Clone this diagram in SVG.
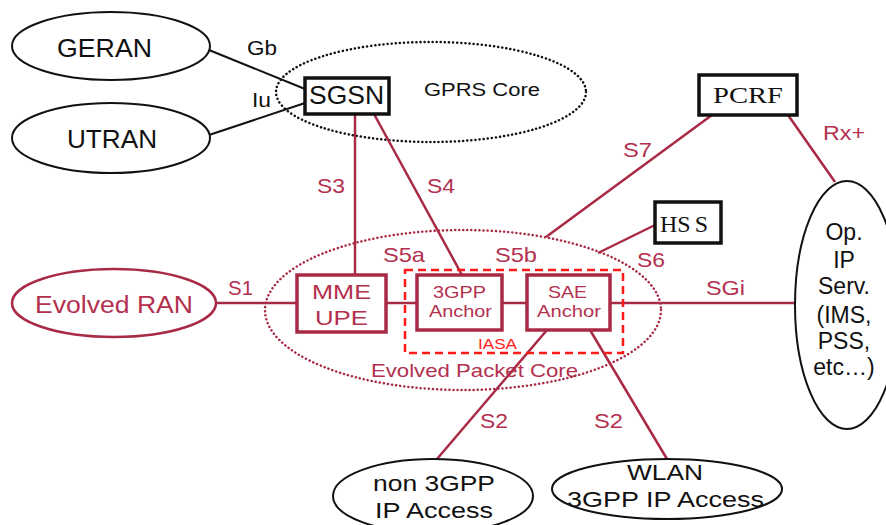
<svg xmlns="http://www.w3.org/2000/svg" width="886" height="525" viewBox="0 0 886 525">
<style>
  text { font-family: "Liberation Sans", Arial, sans-serif; }
  .blk { fill: #111; }
  .mar { fill: #b3304f; }
  .serif { font-family: "Liberation Serif", "Times New Roman", serif; }
  .bline { stroke: #111; stroke-width: 2; fill: none; }
  .mline { stroke: #a82a45; stroke-width: 2.5; fill: none; }
  .bell { stroke: #111; stroke-width: 2; fill: #fff; }
  .mbox { stroke: #a82a45; stroke-width: 3.5; fill: #fff; }
  .bbox { stroke: #111; stroke-width: 3.5; fill: #fff; }
</style>
<rect width="886" height="525" fill="#fff"/>

<!-- cloud regions -->
<g id="gprs-core">
  <ellipse cx="431" cy="92" rx="155" ry="50" fill="none" stroke="#111" stroke-width="2.5" stroke-dasharray="0.1 4" stroke-linecap="round"/>
  <text class="blk" x="424" y="96" font-size="18" textLength="116" lengthAdjust="spacingAndGlyphs">GPRS Core</text>
</g>
<g id="epc">
  <ellipse cx="463" cy="310" rx="198" ry="80" fill="none" stroke="#a82a45" stroke-width="2.5" stroke-dasharray="0.1 4" stroke-linecap="round"/>
  <text class="mar" x="371" y="377" font-size="19" textLength="207" lengthAdjust="spacingAndGlyphs">Evolved Packet Core</text>
</g>

<!-- connectors -->
<g id="connectors">
  <line class="bline" x1="209" y1="50" x2="305" y2="89"/>
  <line class="bline" x1="209" y1="135" x2="305" y2="103"/>
  <line class="mline" x1="355" y1="114" x2="355" y2="275"/>
  <line class="mline" x1="374" y1="114" x2="462" y2="275"/>
  <line class="mline" x1="216" y1="303" x2="297" y2="303"/>
  <line class="mline" x1="386" y1="303" x2="417" y2="303"/>
  <line class="mline" x1="502" y1="303" x2="527" y2="303"/>
  <line class="mline" x1="610" y1="303" x2="796" y2="303"/>
  <line class="mline" x1="712" y1="115" x2="546" y2="237"/>
  <line class="mline" x1="788" y1="115" x2="835" y2="182"/>
  <line class="mline" x1="655" y1="225" x2="598" y2="253"/>
  <line class="mline" x1="547" y1="330" x2="437" y2="459"/>
  <line class="mline" x1="590" y1="330" x2="667" y2="459"/>
</g>

<!-- connector labels -->
<g id="labels">
  <text class="blk" x="247" y="55" font-size="20" textLength="30" lengthAdjust="spacingAndGlyphs">Gb</text>
  <text class="blk" x="252" y="107" font-size="20" textLength="19" lengthAdjust="spacingAndGlyphs">Iu</text>
  <text class="mar" x="317" y="193" font-size="21" textLength="28" lengthAdjust="spacingAndGlyphs">S3</text>
  <text class="mar" x="427" y="193" font-size="21" textLength="28" lengthAdjust="spacingAndGlyphs">S4</text>
  <text class="mar" x="228" y="295" font-size="21" textLength="25" lengthAdjust="spacingAndGlyphs">S1</text>
  <text class="mar" x="383" y="262" font-size="21" textLength="42" lengthAdjust="spacingAndGlyphs">S5a</text>
  <text class="mar" x="495" y="262" font-size="21" textLength="42" lengthAdjust="spacingAndGlyphs">S5b</text>
  <text class="mar" x="637" y="267" font-size="21" textLength="28" lengthAdjust="spacingAndGlyphs">S6</text>
  <text class="mar" x="623" y="157" font-size="21" textLength="29" lengthAdjust="spacingAndGlyphs">S7</text>
  <text class="mar" x="823" y="140" font-size="21" textLength="42" lengthAdjust="spacingAndGlyphs">Rx+</text>
  <text class="mar" x="706" y="295" font-size="21" textLength="39" lengthAdjust="spacingAndGlyphs">SGi</text>
  <text class="mar" x="480" y="428" font-size="21" textLength="28" lengthAdjust="spacingAndGlyphs">S2</text>
  <text class="mar" x="594" y="428" font-size="21" textLength="29" lengthAdjust="spacingAndGlyphs">S2</text>
</g>

<!-- nodes -->
<g id="geran">
  <ellipse class="bell" cx="111" cy="46" rx="99" ry="34"/>
  <text class="blk" x="57" y="57" font-size="25" textLength="95" lengthAdjust="spacingAndGlyphs">GERAN</text>
</g>
<g id="utran">
  <ellipse class="bell" cx="111" cy="138" rx="99" ry="35"/>
  <text class="blk" x="67" y="148" font-size="25" textLength="90" lengthAdjust="spacingAndGlyphs">UTRAN</text>
</g>
<g id="sgsn">
  <rect class="bbox" x="305" y="78" width="84" height="36"/>
  <text class="blk" x="309" y="104" font-size="25" textLength="75" lengthAdjust="spacingAndGlyphs">SGSN</text>
</g>
<g id="pcrf">
  <rect class="bbox" x="699" y="75" width="98" height="40"/>
  <text class="blk serif" x="713" y="103" font-size="23" textLength="70" lengthAdjust="spacingAndGlyphs">PCRF</text>
</g>
<g id="hss">
  <rect class="bbox" x="655" y="202" width="66" height="41"/>
  <text class="blk serif" x="660" y="232" font-size="24">HS<tspan dx="4">S</tspan></text>
</g>
<g id="evolved-ran">
  <ellipse cx="114" cy="303" rx="102" ry="34" fill="#fff" stroke="#a82a45" stroke-width="2.5"/>
  <text class="mar" x="35" y="313" font-size="23" textLength="158" lengthAdjust="spacingAndGlyphs">Evolved RAN</text>
</g>
<g id="mme-upe">
  <rect class="mbox" x="297" y="275" width="89" height="57"/>
  <text class="mar" x="312" y="299" font-size="21" textLength="59" lengthAdjust="spacingAndGlyphs">MME</text>
  <text class="mar" x="315" y="325" font-size="21" textLength="53" lengthAdjust="spacingAndGlyphs">UPE</text>
</g>
<g id="iasa">
  <rect x="405" y="270" width="218" height="83" fill="none" stroke="#ff1a1a" stroke-width="2.5" stroke-dasharray="8 5"/>
  <text x="478" y="349" font-size="15" fill="#ff1a1a" textLength="39" lengthAdjust="spacingAndGlyphs">IASA</text>
</g>
<g id="anchor-3gpp">
  <rect class="mbox" x="417" y="275" width="85" height="55"/>
  <text class="mar" x="433" y="298" font-size="17" textLength="53" lengthAdjust="spacingAndGlyphs">3GPP</text>
  <text class="mar" x="429" y="317" font-size="17" textLength="63" lengthAdjust="spacingAndGlyphs">Anchor</text>
</g>
<g id="anchor-sae">
  <rect class="mbox" x="527" y="275" width="83" height="55"/>
  <text class="mar" x="548" y="298" font-size="17" textLength="39" lengthAdjust="spacingAndGlyphs">SAE</text>
  <text class="mar" x="537" y="317" font-size="17" textLength="64" lengthAdjust="spacingAndGlyphs">Anchor</text>
</g>
<g id="op-ip">
  <ellipse class="bell" cx="847" cy="305" rx="52" ry="124"/>
  <g class="blk" font-size="23" text-anchor="middle">
    <text x="844" y="240">Op.</text>
    <text x="844" y="268">IP</text>
    <text x="844" y="294">Serv.</text>
    <text x="844" y="323">(IMS,</text>
    <text x="844" y="349">PSS,</text>
    <text x="844" y="375">etc…)</text>
  </g>
</g>
<g id="non-3gpp">
  <ellipse class="bell" cx="433" cy="496" rx="100" ry="37"/>
  <text class="blk" x="373" y="491" font-size="22" textLength="122" lengthAdjust="spacingAndGlyphs">non 3GPP</text>
  <text class="blk" x="375" y="518" font-size="22" textLength="118" lengthAdjust="spacingAndGlyphs">IP Access</text>
</g>
<g id="wlan">
  <ellipse class="bell" cx="667" cy="489" rx="115" ry="30"/>
  <text class="blk" x="627" y="480" font-size="22" textLength="76" lengthAdjust="spacingAndGlyphs">WLAN</text>
  <text class="blk" x="567" y="507" font-size="22" textLength="197" lengthAdjust="spacingAndGlyphs">3GPP IP Access</text>
</g>
</svg>
